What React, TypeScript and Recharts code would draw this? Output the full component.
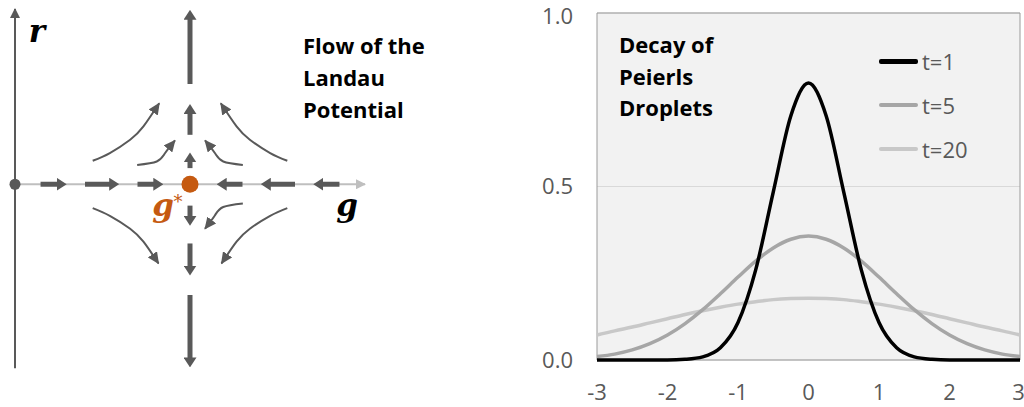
import React from 'react';
import { LineChart, Line, XAxis, YAxis, CartesianGrid, ReferenceArea, ReferenceDot, Legend } from 'recharts';

// ---------- Right panel: Decay of Peierls Droplets ----------
const positions = [-3, -2.75, -2.5, -2.25, -2, -1.75, -1.5, -1.25, -1, -0.75, -0.5, -0.25, 0, 0.25, 0.5, 0.75, 1, 1.25, 1.5, 1.75, 2, 2.25, 2.5, 2.75, 3];
const densityT1 = [0, 0, 0, 0, 0, 0.002, 0.009, 0.035, 0.108, 0.259, 0.484, 0.704, 0.798, 0.704, 0.484, 0.259, 0.108, 0.035, 0.009, 0.002, 0, 0, 0, 0, 0];
const densityT5 = [0.01, 0.017, 0.029, 0.047, 0.072, 0.105, 0.145, 0.191, 0.239, 0.285, 0.323, 0.348, 0.357, 0.348, 0.323, 0.285, 0.239, 0.191, 0.145, 0.105, 0.072, 0.047, 0.029, 0.017, 0.01];
const densityT20 = [0.072, 0.084, 0.095, 0.107, 0.119, 0.131, 0.142, 0.152, 0.161, 0.168, 0.174, 0.177, 0.178, 0.177, 0.174, 0.168, 0.161, 0.152, 0.142, 0.131, 0.119, 0.107, 0.095, 0.084, 0.072];
const xTicks = [-3, -2, -1, 0, 1, 2, 3];
const yTicks = [0, 0.5, 1];
const seriesNames = ['t=1', 't=5', 't=20'];
const seriesKeys = ['t1', 't5', 't20'];
const seriesColors = ['#000000', '#a6a6a6', '#c8c8c8'];
const rightTitle = ['Decay of', 'Peierls', 'Droplets'];

const decayData = positions.map((x, i) => ({ x, t1: densityT1[i], t5: densityT5[i], t20: densityT20[i] }));

// ---------- Left panel: Flow of the Landau Potential (coordinates in g, r units) ----------
const leftTitle = ['Flow of the', 'Landau', 'Potential'];
const rAxisRange = [-5.25, 5];
const gAxisRange = [0, 10];
const flowAlongG = [[0.73, 1.22], [2.0, 2.72], [3.5, 3.98], [9.27, 8.78], [8.0, 7.28], [6.5, 6.02]];
const flowAlongR = [[2.86, 4.72], [1.41, 2.03], [0.46, 0.65], [-0.61, -0.93], [-1.69, -2.35], [-3.16, -4.97]];
const fixedPointG = 5;
const curvedFlows = [
  [[2.22, 0.67], [2.71, 0.89], [3.29, 1.27], [3.67, 1.65], [4.12, 2.31]],
  [[7.78, 0.67], [7.29, 0.89], [6.71, 1.27], [6.33, 1.65], [5.88, 2.31]],
  [[2.22, -0.68], [2.71, -0.9], [3.29, -1.27], [3.67, -1.64], [4.1, -2.26]],
  [[7.78, -0.68], [7.29, -0.9], [6.71, -1.27], [6.33, -1.64], [5.9, -2.26]],
  [[3.49, 0.55], [4.05, 0.65], [4.29, 0.89], [4.57, 1.25]],
  [[6.51, 0.55], [5.95, 0.65], [5.71, 0.89], [5.43, 1.25]],
  [[6.51, -0.55], [5.95, -0.65], [5.71, -0.89], [5.43, -1.27]],
];

const GRAY = '#595959';
const ORANGE = '#c55a11';
const SANS = "'Open Sans', sans-serif";
const SERIF = "'DejaVu Serif', serif";

const toPts = (arr: number[][]) => arr.map(([x, y]) => ({ x, y }));

const LegendBox = () => (
  <div style={{ fontFamily: SANS, fontSize: 22, color: GRAY }}>
    {seriesNames.map((n, i) => (
      <div key={n} style={{ height: 44, display: 'flex', alignItems: 'center' }}>
        <span style={{ display: 'inline-block', width: 39, height: i === 0 ? 5 : 4, background: seriesColors[i], borderRadius: 2, marginRight: 4 }} />
        <span>{n}</span>
      </div>
    ))}
  </div>
);

const YTick = (props: any) => {
  const { x, y, payload } = props;
  const shift = payload.value === 1 ? 3 : 0;
  return (
    <text x={x} y={y + shift} dy="0.355em" textAnchor="end" fill={GRAY} fontSize={22} fontFamily={SANS}>
      {Number(payload.value).toFixed(1)}
    </text>
  );
};

export default function App() {
  return (
    <div style={{ position: 'absolute', left: 0, top: 0, width: 1024, height: 407, background: '#fff', overflow: 'hidden' }}>
      <svg width={0} height={0} style={{ position: 'absolute' }}>
        <defs>
          <marker id="arrowThick" markerUnits="userSpaceOnUse" viewBox="0 0 10 13" markerWidth={10} markerHeight={13} refX={1} refY={6.5} orient="auto">
            <path d="M0,0 L10,6.5 L0,13 Z" fill={GRAY} />
          </marker>
          <marker id="arrowThin" markerUnits="userSpaceOnUse" viewBox="0 0 12 11" markerWidth={12} markerHeight={11} refX={11} refY={5.5} orient="auto">
            <path d="M0,0 L12,5.5 L0,11 Z" fill={GRAY} />
          </marker>
          <marker id="arrowAxisDark" markerUnits="userSpaceOnUse" viewBox="0 0 10 10" markerWidth={10} markerHeight={10} refX={9} refY={5} orient="auto">
            <path d="M0,0 L10,5 L0,10 Z" fill={GRAY} />
          </marker>
          <marker id="arrowAxisLight" markerUnits="userSpaceOnUse" viewBox="0 0 10 10" markerWidth={10} markerHeight={10} refX={9} refY={5} orient="auto">
            <path d="M0,0 L10,5 L0,10 Z" fill="#bfbfbf" />
          </marker>
        </defs>
      </svg>

      {/* Left: flow diagram */}
      <div style={{ position: 'absolute', left: 0, top: 0 }}>
        <LineChart width={400} height={407} margin={{ top: 9, right: 0, bottom: 30, left: 15 }}>
          <XAxis type="number" dataKey="x" domain={[0, 11]} hide />
          <YAxis type="number" domain={[-5.5, 5]} hide />
          <Line data={[{ x: 0, y: rAxisRange[0] }, { x: 0, y: rAxisRange[1] }]} dataKey="y" type="linear" stroke={GRAY} strokeWidth={2} dot={false} activeDot={false} isAnimationActive={false} markerEnd="url(#arrowAxisDark)" />
          <Line data={[{ x: gAxisRange[0], y: 0 }, { x: gAxisRange[1], y: 0 }]} dataKey="y" type="linear" stroke="#bfbfbf" strokeWidth={2} dot={false} activeDot={false} isAnimationActive={false} markerEnd="url(#arrowAxisLight)" />
          {flowAlongG.map(([a, b], i) => (
            <Line key={'g' + i} data={[{ x: a, y: 0 }, { x: b, y: 0 }]} dataKey="y" type="linear" stroke={GRAY} strokeWidth={5} dot={false} activeDot={false} isAnimationActive={false} markerEnd="url(#arrowThick)" />
          ))}
          {flowAlongR.map(([a, b], i) => (
            <Line key={'r' + i} data={[{ x: fixedPointG, y: a }, { x: fixedPointG, y: b }]} dataKey="y" type="linear" stroke={GRAY} strokeWidth={5} dot={false} activeDot={false} isAnimationActive={false} markerEnd="url(#arrowThick)" />
          ))}
          {curvedFlows.map((c, i) => (
            <Line key={'c' + i} data={toPts(c)} dataKey="y" type="natural" stroke={GRAY} strokeWidth={2} dot={false} activeDot={false} isAnimationActive={false} markerEnd="url(#arrowThin)" />
          ))}
          <ReferenceDot x={0} y={0} r={5.5} fill={GRAY} stroke="none" />
          <ReferenceDot x={fixedPointG} y={0} r={8.5} fill={ORANGE} stroke="none" />
        </LineChart>
      </div>

      {/* Right: decay chart */}
      <div style={{ position: 'absolute', left: 540, top: 0 }}>
        <LineChart width={484} height={407} data={decayData} margin={{ top: 13, right: 4, bottom: 0, left: 0 }}>
          <CartesianGrid vertical={false} stroke="#d9d9d9" fill="#f2f2f2" />
          <XAxis type="number" dataKey="x" domain={[-3, 3]} ticks={xTicks} height={47} tickSize={0} tickMargin={24} axisLine={false} tickLine={false}
            tick={{ fill: GRAY, fontSize: 22, fontFamily: SANS }} />
          <YAxis type="number" domain={[0, 1]} ticks={yTicks} width={57} tickSize={0} tickMargin={24} axisLine={false} tickLine={false}
            tick={<YTick />} />
          <ReferenceArea x1={-3} x2={3} y1={0} y2={1} fill="none" stroke="#9a9a9a" strokeWidth={1} />
          {[2, 1, 0].map((i) => (
            <Line key={seriesKeys[i]} dataKey={seriesKeys[i]} name={seriesNames[i]} type="monotone" stroke={seriesColors[i]} strokeWidth={3.5} dot={false} activeDot={false} isAnimationActive={false} />
          ))}
          <Legend layout="vertical" align="center" verticalAlign="middle" content={() => <LegendBox />}
            wrapperStyle={{ position: 'absolute', left: 339, top: 39, width: 130 }} />
        </LineChart>
      </div>

      {/* Text overlays */}
      <svg width={1024} height={407} style={{ position: 'absolute', left: 0, top: 0, pointerEvents: 'none' }}>
        <text x={37} y={42} textAnchor="middle" fontFamily={SERIF} fontSize={31} fontWeight="bold" fontStyle="italic" fill="#000">r</text>
        <text x={347} y={216} textAnchor="middle" fontFamily={SERIF} fontSize={31} fontWeight="bold" fontStyle="italic" fill="#000">g</text>
        <text x={163} y={216} textAnchor="middle" fontFamily={SERIF} fontSize={31} fontWeight="bold" fontStyle="italic" fill={ORANGE}>g</text>
        <text x={178} y={208} textAnchor="middle" fontFamily={SERIF} fontSize={18} fill={ORANGE}>*</text>
        {leftTitle.map((t, i) => (
          <text key={t} x={303} y={46 + i * 32 + 8} fontFamily={SANS} fontSize={22} fontWeight="bold" fill="#000">{t}</text>
        ))}
        {rightTitle.map((t, i) => (
          <text key={t} x={619} y={45 + i * 31.5 + 8} fontFamily={SANS} fontSize={22} fontWeight="bold" fill="#000">{t}</text>
        ))}
      </svg>
    </div>
  );
}
